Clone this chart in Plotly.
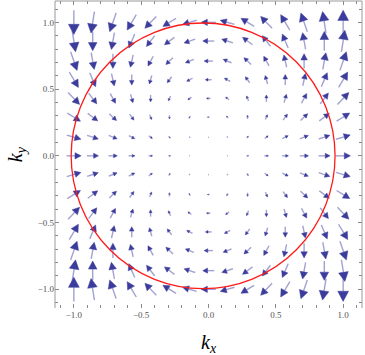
import math
import plotly.graph_objects as go

# grid positions (kx across, ky rows from -1 to 1)
kx = [-1.0, -0.86, -0.71, -0.57, -0.43, -0.29, -0.14, 0.0, 0.14, 0.29, 0.43, 0.57, 0.71, 0.86, 1.0]
ky = [-1.0, -0.86, -0.71, -0.57, -0.43, -0.29, -0.14, 0.0, 0.14, 0.29, 0.43, 0.57, 0.71, 0.86, 1.0]

# x component of the field, one row per ky
U = [
    [0.00, -0.27, -0.49, -0.67, -0.82, -0.92, -0.98, -1.00, -0.98, -0.92, -0.82, -0.67, -0.49, -0.27, 0.00],
    [0.27, 0.00, -0.22, -0.41, -0.55, -0.65, -0.71, -0.73, -0.71, -0.65, -0.55, -0.41, -0.22, 0.00, 0.27],
    [0.49, 0.22, 0.00, -0.18, -0.33, -0.43, -0.49, -0.51, -0.49, -0.43, -0.33, -0.18, 0.00, 0.22, 0.49],
    [0.67, 0.41, 0.18, 0.00, -0.14, -0.24, -0.31, -0.33, -0.31, -0.24, -0.14, 0.00, 0.18, 0.41, 0.67],
    [0.82, 0.55, 0.33, 0.14, 0.00, -0.10, -0.16, -0.18, -0.16, -0.10, 0.00, 0.14, 0.33, 0.55, 0.82],
    [0.92, 0.65, 0.43, 0.24, 0.10, 0.00, -0.06, -0.08, -0.06, 0.00, 0.10, 0.24, 0.43, 0.65, 0.92],
    [0.98, 0.71, 0.49, 0.31, 0.16, 0.06, 0.00, -0.02, 0.00, 0.06, 0.16, 0.31, 0.49, 0.71, 0.98],
    [1.00, 0.73, 0.51, 0.33, 0.18, 0.08, 0.02, 0.00, 0.02, 0.08, 0.18, 0.33, 0.51, 0.73, 1.00],
    [0.98, 0.71, 0.49, 0.31, 0.16, 0.06, 0.00, -0.02, 0.00, 0.06, 0.16, 0.31, 0.49, 0.71, 0.98],
    [0.92, 0.65, 0.43, 0.24, 0.10, 0.00, -0.06, -0.08, -0.06, 0.00, 0.10, 0.24, 0.43, 0.65, 0.92],
    [0.82, 0.55, 0.33, 0.14, 0.00, -0.10, -0.16, -0.18, -0.16, -0.10, 0.00, 0.14, 0.33, 0.55, 0.82],
    [0.67, 0.41, 0.18, 0.00, -0.14, -0.24, -0.31, -0.33, -0.31, -0.24, -0.14, 0.00, 0.18, 0.41, 0.67],
    [0.49, 0.22, 0.00, -0.18, -0.33, -0.43, -0.49, -0.51, -0.49, -0.43, -0.33, -0.18, 0.00, 0.22, 0.49],
    [0.27, 0.00, -0.22, -0.41, -0.55, -0.65, -0.71, -0.73, -0.71, -0.65, -0.55, -0.41, -0.22, 0.00, 0.27],
    [0.00, -0.27, -0.49, -0.67, -0.82, -0.92, -0.98, -1.00, -0.98, -0.92, -0.82, -0.67, -0.49, -0.27, 0.00],
]

# y component of the field, one row per ky
V = [
    [2.00, 1.71, 1.43, 1.14, 0.86, 0.57, 0.29, 0.00, -0.29, -0.57, -0.86, -1.14, -1.43, -1.71, -2.00],
    [1.71, 1.47, 1.22, 0.98, 0.73, 0.49, 0.24, 0.00, -0.24, -0.49, -0.73, -0.98, -1.22, -1.47, -1.71],
    [1.43, 1.22, 1.02, 0.82, 0.61, 0.41, 0.20, 0.00, -0.20, -0.41, -0.61, -0.82, -1.02, -1.22, -1.43],
    [1.14, 0.98, 0.82, 0.65, 0.49, 0.33, 0.16, 0.00, -0.16, -0.33, -0.49, -0.65, -0.82, -0.98, -1.14],
    [0.86, 0.73, 0.61, 0.49, 0.37, 0.24, 0.12, 0.00, -0.12, -0.24, -0.37, -0.49, -0.61, -0.73, -0.86],
    [0.57, 0.49, 0.41, 0.33, 0.24, 0.16, 0.08, 0.00, -0.08, -0.16, -0.24, -0.33, -0.41, -0.49, -0.57],
    [0.29, 0.24, 0.20, 0.16, 0.12, 0.08, 0.04, 0.00, -0.04, -0.08, -0.12, -0.16, -0.20, -0.24, -0.29],
    [0.00, 0.00, 0.00, 0.00, 0.00, 0.00, 0.00, 0.00, 0.00, 0.00, 0.00, 0.00, 0.00, 0.00, 0.00],
    [-0.29, -0.24, -0.20, -0.16, -0.12, -0.08, -0.04, 0.00, 0.04, 0.08, 0.12, 0.16, 0.20, 0.24, 0.29],
    [-0.57, -0.49, -0.41, -0.33, -0.24, -0.16, -0.08, 0.00, 0.08, 0.16, 0.24, 0.33, 0.41, 0.49, 0.57],
    [-0.86, -0.73, -0.61, -0.49, -0.37, -0.24, -0.12, 0.00, 0.12, 0.24, 0.37, 0.49, 0.61, 0.73, 0.86],
    [-1.14, -0.98, -0.82, -0.65, -0.49, -0.33, -0.16, 0.00, 0.16, 0.33, 0.49, 0.65, 0.82, 0.98, 1.14],
    [-1.43, -1.22, -1.02, -0.82, -0.61, -0.41, -0.20, 0.00, 0.20, 0.41, 0.61, 0.82, 1.02, 1.22, 1.43],
    [-1.71, -1.47, -1.22, -0.98, -0.73, -0.49, -0.24, 0.00, 0.24, 0.49, 0.73, 0.98, 1.22, 1.47, 1.71],
    [-2.00, -1.71, -1.43, -1.14, -0.86, -0.57, -0.29, 0.00, 0.29, 0.57, 0.86, 1.14, 1.43, 1.71, 2.00],
]

# red contour (ellipse-ish circle)
circle_cx = -0.04
circle_rx = 0.98
circle_ry = 0.995

tick_vals = [-1.0, -0.5, 0.0, 0.5, 1.0]

PX = 134.0  # pixels per data unit, roughly, for arrow sizing

shaft_x, shaft_y = [], []
head_x, head_y = [], []
for j, y in enumerate(ky):
    for i, x in enumerate(kx):
        u, v = U[j][i], V[j][i]
        mag = math.hypot(u, v)
        if mag == 0:
            continue
        dx, dy = u / mag, v / mag
        L = 14.5 * mag ** 0.75 / PX
        h = 0.42 * L
        w = 0.22 * L
        tx, ty = x - dx * L / 2, y - dy * L / 2
        px_, py_ = x + dx * L / 2, y + dy * L / 2
        bx, by = px_ - dx * h, py_ - dy * h
        shaft_x += [tx, bx, None]
        shaft_y += [ty, by, None]
        head_x += [px_, bx - dy * w, bx + dy * w, px_, None]
        head_y += [py_, by + dx * w, by - dx * w, py_, None]

fig = go.Figure()
fig.add_trace(
    go.Scatter(
        x=shaft_x, y=shaft_y, mode="lines",
        line=dict(color="rgba(70,70,165,0.5)", width=1.4),
        hoverinfo="skip", showlegend=False,
    )
)
fig.add_trace(
    go.Scatter(
        x=head_x, y=head_y, mode="lines", fill="toself",
        fillcolor="#3c3c9c", line=dict(color="#3c3c9c", width=0.5),
        hoverinfo="skip", showlegend=False,
    )
)

fig.add_shape(
    type="circle", xref="x", yref="y",
    x0=circle_cx - circle_rx, x1=circle_cx + circle_rx,
    y0=-circle_ry, y1=circle_ry,
    line=dict(color="#ff1a1a", width=1.3), layer="above",
)

# frame: left, top, right (no bottom line in the original)
frame = dict(color="#9a9a9a", width=1)
fig.add_shape(type="line", xref="paper", yref="paper", x0=0, x1=0, y0=0, y1=1, line=frame)
fig.add_shape(type="line", xref="paper", yref="paper", x0=0, x1=1, y0=1, y1=1, line=frame)
fig.add_shape(type="line", xref="paper", yref="paper", x0=1, x1=1, y0=0, y1=1, line=frame)

axis_common = dict(
    showgrid=False, zeroline=False, showline=False,
    ticks="inside", ticklen=4, tickcolor="#8a8a8a", tickwidth=1,
    mirror="ticks", tickvals=tick_vals, tickformat=".1f",
    tickfont=dict(family="Liberation Serif", size=9, color="#555555"),
    minor=dict(ticks="inside", ticklen=3, tickcolor="#8a8a8a", dtick=0.1, tick0=0),
)

fig.update_layout(
    width=365, height=355,
    margin=dict(l=55, r=3, t=1, b=47, autoexpand=False),
    paper_bgcolor="white", plot_bgcolor="white",
    xaxis=dict(range=[-1.14, 1.14], **axis_common),
    yaxis=dict(range=[-1.14, 1.16], **axis_common),
    annotations=[
        dict(text="<i>k</i><sub><i>x</i></sub>", xref="paper", yref="paper",
             x=0.5, y=-0.115, xanchor="center", yanchor="middle", showarrow=False,
             font=dict(family="Liberation Serif", size=20, color="black")),
        dict(text="<i>k</i><sub><i>y</i></sub>", xref="paper", yref="paper",
             x=-0.125, y=0.5, xanchor="center", yanchor="middle", showarrow=False,
             textangle=-90,
             font=dict(family="Liberation Serif", size=20, color="black")),
    ],
)

fig.write_html(
    "out.html",
    config={"displayModeBar": False},
    post_script="document.body.style.margin='0';",
)
